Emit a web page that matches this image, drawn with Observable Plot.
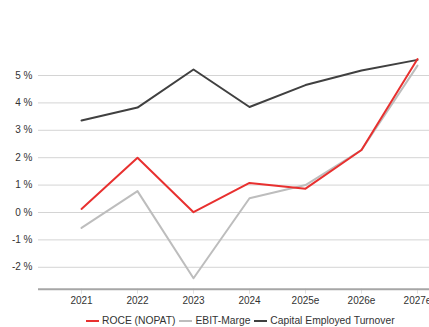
<!DOCTYPE html>
<html>
<head>
<meta charset="utf-8">
<script src="https://cdn.jsdelivr.net/npm/d3@7"></script>
<script src="https://cdn.jsdelivr.net/npm/@observablehq/plot@0.6"></script>
<style>
  html, body { margin: 0; padding: 0; background: #fff; overflow: hidden; width: 429px; height: 327px; }
  #wrap { position: relative; width: 460px; height: 327px; font-family: "Liberation Sans", Arial, sans-serif; }
  #chart { position: absolute; left: 0; top: 0; }
  #legend { position: absolute; left: 86px; top: 315px; font-size: 10.3px; color: #333; white-space: nowrap; display: flex; align-items: center; }
  #legend .item { display: flex; align-items: center; margin-right: 4px; }
  #legend .sw { display: inline-block; width: 13px; height: 2px; margin-right: 3px; }
</style>
</head>
<body>
<div id="wrap">
  <div id="chart"></div>
  <div id="legend"></div>
</div>
<script>
const years = ["2021", "2022", "2023", "2024", "2025e", "2026e", "2027e"];
const roce = [0.13, 2.0, 0.01, 1.08, 0.87, 2.28, 5.6];
const ebit = [-0.56, 0.78, -2.4, 0.52, 1.0, 2.28, 5.36];
const cet = [3.36, 3.83, 5.22, 3.85, 4.65, 5.18, 5.57];
const seriesNames = ["ROCE (NOPAT)", "EBIT-Marge", "Capital Employed Turnover"];
const seriesColors = ["#e8302f", "#bdbdbd", "#404040"];
const yTicks = [-2, -1, 0, 1, 2, 3, 4, 5];

const rows = [];
[roce, ebit, cet].forEach((vals, si) => {
  vals.forEach((v, i) => rows.push({ year: years[i], value: v, series: seriesNames[si] }));
});

const plot = Plot.plot({
  width: 460,
  height: 310,
  marginLeft: 38,
  marginRight: 0,
  marginTop: 47.6,
  marginBottom: 21.3,
  style: { fontFamily: "'Liberation Sans', Arial, sans-serif", fontSize: "10px", color: "#333", background: "#fff" },
  x: { type: "point", domain: years, padding: 0.75, label: null },
  y: { domain: [-2.8, 6], label: null },
  color: { domain: seriesNames, range: seriesColors },
  marks: [
    Plot.ruleY(yTicks, { stroke: "#d4d4d4", strokeWidth: 1 }),
    Plot.axisX({ tickSize: 5, stroke: "#e0e0e0", strokeOpacity: 1, tickPadding: 3, fill: "#333" }),
    Plot.ruleY([-2.8], { stroke: "#a6a6a6", strokeWidth: 2 }),
    Plot.axisY({ ticks: yTicks, tickFormat: d => `${d} %`, tickSize: 0, tickPadding: 6, fill: "#333" }),
    Plot.line(rows.filter(d => d.series === "EBIT-Marge"), { x: "year", y: "value", stroke: "series", strokeWidth: 2 }),
    Plot.line(rows.filter(d => d.series === "Capital Employed Turnover"), { x: "year", y: "value", stroke: "series", strokeWidth: 2 }),
    Plot.line(rows.filter(d => d.series === "ROCE (NOPAT)"), { x: "year", y: "value", stroke: "series", strokeWidth: 2 })
  ]
});
document.getElementById("chart").appendChild(plot);

const legend = document.getElementById("legend");
seriesNames.forEach((n, i) => {
  const item = document.createElement("span");
  item.className = "item";
  const sw = document.createElement("span");
  sw.className = "sw";
  sw.style.background = seriesColors[i];
  item.appendChild(sw);
  item.appendChild(document.createTextNode(n));
  legend.appendChild(item);
});
</script>
</body>
</html>
